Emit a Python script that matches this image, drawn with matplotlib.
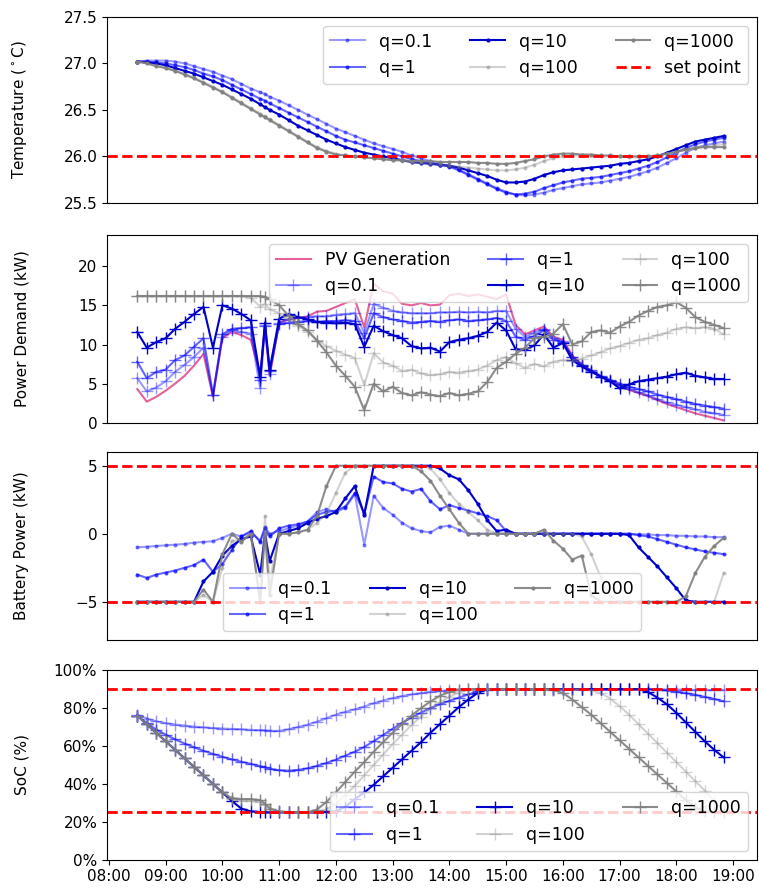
import numpy as np
import pandas as pd
import matplotlib
matplotlib.use('Agg')
import matplotlib.pyplot as plt
import matplotlib.dates as mdates
from matplotlib.ticker import PercentFormatter

day = '2021-07-01'
# 10 minute samples, with one extra sample at 10:45
times = pd.date_range(day + ' 08:30', day + ' 18:50', freq='10min').union(
    pd.DatetimeIndex([day + ' 10:45']))

labels = ['q=0.1', 'q=1', 'q=10', 'q=100', 'q=1000']

# rows: 08:30-09:50 | 10:00-10:50 (+10:45) | 11h | 12h | 13h | 14h | 15h | 16h | 17h | 18h
temp_q01 = [27.02, 27.03, 27.03, 27.03, 27.02, 27.00, 26.97, 26.94, 26.91,
            26.87, 26.83, 26.78, 26.73, 26.69, 26.67, 26.64,
            26.60, 26.55, 26.50, 26.45, 26.40, 26.35,
            26.30, 26.26, 26.22, 26.18, 26.14, 26.11,
            26.08, 26.05, 26.01, 25.98, 25.95, 25.92,
            25.90, 25.86, 25.81, 25.76, 25.71, 25.66,
            25.62, 25.59, 25.58, 25.59, 25.61, 25.64,
            25.66, 25.68, 25.70, 25.71, 25.72, 25.74,
            25.76, 25.78, 25.81, 25.84, 25.88, 25.93,
            25.98, 26.04, 26.09, 26.12, 26.14, 26.16]
temp_q1 = [27.02, 27.02, 27.01, 27.00, 26.98, 26.96, 26.93, 26.89, 26.86,
           26.82, 26.77, 26.72, 26.67, 26.62, 26.60, 26.57,
           26.52, 26.47, 26.42, 26.37, 26.32, 26.27,
           26.22, 26.18, 26.15, 26.12, 26.09, 26.06,
           26.03, 26.00, 25.97, 25.95, 25.93, 25.91,
           25.89, 25.85, 25.80, 25.75, 25.70, 25.65,
           25.61, 25.59, 25.60, 25.62, 25.66, 25.69,
           25.72, 25.74, 25.76, 25.77, 25.78, 25.80,
           25.82, 25.84, 25.87, 25.90, 25.94, 25.99,
           26.04, 26.09, 26.13, 26.16, 26.18, 26.20]
temp_q10 = [27.02, 27.01, 27.00, 26.98, 26.95, 26.92, 26.89, 26.85, 26.81,
            26.77, 26.72, 26.67, 26.62, 26.56, 26.53, 26.50,
            26.45, 26.39, 26.33, 26.28, 26.23, 26.18,
            26.14, 26.10, 26.07, 26.04, 26.02, 26.00,
            25.98, 25.96, 25.94, 25.93, 25.92, 25.91,
            25.90, 25.88, 25.85, 25.82, 25.79, 25.75,
            25.72, 25.72, 25.73, 25.76, 25.80, 25.83,
            25.85, 25.86, 25.87, 25.88, 25.89, 25.90,
            25.92, 25.93, 25.95, 25.97, 26.00, 26.04,
            26.08, 26.12, 26.16, 26.18, 26.20, 26.22]
temp_q100 = [27.02, 27.00, 26.98, 26.95, 26.92, 26.89, 26.85, 26.80, 26.75,
             26.70, 26.64, 26.58, 26.52, 26.46, 26.43, 26.40,
             26.34, 26.28, 26.22, 26.16, 26.10, 26.06,
             26.03, 26.01, 26.00, 25.99, 25.98, 25.97,
             25.96, 25.95, 25.94, 25.93, 25.92, 25.91,
             25.90, 25.89, 25.88, 25.87, 25.86, 25.85,
             25.85, 25.86, 25.88, 25.91, 25.95, 25.98,
             26.00, 26.01, 26.01, 26.01, 26.00, 26.00,
             26.00, 25.99, 25.99, 26.00, 26.01, 26.03,
             26.05, 26.08, 26.10, 26.11, 26.12, 26.13]
temp_q1000 = [27.02, 27.00, 26.97, 26.95, 26.92, 26.88, 26.84, 26.79, 26.74,
              26.69, 26.63, 26.57, 26.51, 26.45, 26.42, 26.39,
              26.33, 26.27, 26.21, 26.15, 26.09, 26.05,
              26.02, 26.01, 26.00, 25.99, 25.98, 25.97,
              25.96, 25.96, 25.95, 25.95, 25.95, 25.94,
              25.94, 25.94, 25.94, 25.93, 25.93, 25.92,
              25.92, 25.93, 25.95, 25.97, 26.00, 26.02,
              26.03, 26.03, 26.02, 26.02, 26.01, 26.01,
              26.00, 26.00, 26.00, 26.00, 26.01, 26.03,
              26.05, 26.07, 26.09, 26.10, 26.10, 26.10]

pv_gen = [4.3, 2.7, 3.3, 4.1, 5.0, 6.0, 7.3, 8.8, 3.3,
          10.8, 11.6, 11.2, 10.6, 6.3, 12.2, 6.0,
          12.8, 13.2, 13.4, 13.6, 14.2, 14.3,
          14.8, 15.3, 15.8, 12.2, 17.8, 16.8,
          16.5, 15.2, 15.0, 15.3, 15.0, 15.1,
          16.3, 16.5, 16.2, 16.4, 16.1, 15.8,
          16.4, 12.5, 11.3, 11.8, 12.3, 11.0,
          10.6, 8.6, 7.5, 6.6, 5.9, 5.3,
          4.8, 4.2, 3.8, 3.4, 2.9, 2.4,
          2.0, 1.6, 1.2, 0.9, 0.6, 0.3]
power_q01 = [5.7, 4.0, 4.5, 5.3, 6.5, 7.4, 8.4, 9.6, 3.5,
             11.0, 11.8, 11.6, 11.4, 4.4, 12.5, 6.2,
             12.8, 13.2, 13.4, 13.5, 13.6, 13.6,
             13.8, 13.9, 14.0, 11.5, 15.2, 14.7,
             14.3, 14.1, 14.0, 14.0, 14.0, 14.1,
             14.1, 14.2, 14.1, 14.2, 14.1, 14.3,
             14.3, 12.0, 11.0, 11.5, 12.0, 10.8,
             10.4, 8.4, 7.4, 6.6, 5.9, 5.3,
             4.8, 4.3, 3.9, 3.5, 3.0, 2.6,
             2.3, 2.0, 1.7, 1.4, 1.2, 1.0]
power_q1 = [7.8, 5.7, 6.5, 6.8, 8.0, 8.6, 9.7, 10.8, 3.6,
            11.3, 12.0, 12.1, 12.2, 5.4, 12.4, 6.6,
            12.6, 12.8, 12.9, 13.0, 12.9, 13.0,
            13.0, 13.1, 13.0, 10.8, 14.0, 13.5,
            13.2, 13.0, 12.8, 12.9, 13.0, 12.9,
            13.1, 13.2, 13.0, 13.1, 13.2, 13.4,
            13.0, 11.0, 10.6, 11.1, 11.8, 10.6,
            10.3, 8.4, 7.4, 6.7, 6.0, 5.5,
            5.0, 4.6, 4.3, 4.0, 3.6, 3.3,
            3.0, 2.7, 2.4, 2.2, 2.0, 1.8]
power_q10 = [11.6, 9.6, 10.3, 10.8, 12.0, 12.9, 13.9, 14.8, 9.6,
             15.0, 14.6, 13.9, 13.1, 5.8, 12.8, 6.8,
             13.3, 13.9, 13.5, 13.2, 12.9, 12.8,
             12.7, 12.8, 12.6, 9.7, 12.4, 11.7,
             11.2, 10.8, 9.8, 9.5, 9.6, 9.1,
             10.3, 10.6, 10.8, 11.1, 11.6, 12.8,
             11.8, 9.4, 9.3, 9.9, 11.3, 9.6,
             10.2, 8.0, 7.2, 6.5, 5.9, 5.3,
             4.4, 4.9, 5.3, 5.5, 5.7, 5.9,
             6.2, 6.4, 6.0, 5.8, 5.6, 5.6]
power_q100 = [16.2, 16.2, 16.2, 16.2, 16.2, 16.2, 16.2, 16.2, 16.2,
              16.2, 16.2, 16.2, 16.0, 14.8, 15.2, 14.5,
              14.0, 13.2, 12.4, 11.6, 10.6, 9.8,
              9.2, 8.7, 8.3, 4.8, 8.9, 7.7,
              7.3, 6.6, 6.8, 6.3, 6.1, 6.2,
              6.5, 6.4, 6.6, 6.8, 7.3, 8.0,
              8.4, 7.6, 7.0, 7.5, 7.2, 7.8,
              8.0, 7.9, 8.2, 8.6, 9.0, 9.5,
              9.8, 10.2, 10.6, 10.8, 11.2, 11.5,
              12.0, 12.2, 12.1, 12.2, 12.0, 11.3]
power_q1000 = [16.2, 16.2, 16.2, 16.2, 16.2, 16.2, 16.2, 16.2, 16.2,
               16.2, 16.2, 16.2, 16.2, 16.2, 16.1, 15.8,
               15.0, 13.7, 12.6, 11.8, 10.5, 9.0,
               7.3, 6.0, 4.6, 1.6, 5.0, 4.0,
               4.6, 3.8, 3.5, 3.9, 3.6, 3.4,
               3.8, 3.5, 3.7, 4.0, 5.2, 7.0,
               7.8, 8.8, 9.6, 10.8, 11.0, 11.4,
               12.6, 10.0, 10.4, 11.6, 11.8, 11.5,
               12.3, 12.9, 13.7, 14.3, 14.8, 15.0,
               15.4, 14.7, 13.5, 12.9, 12.5, 12.1]

batt_q01 = [-1.0, -0.95, -0.9, -0.85, -0.8, -0.75, -0.65, -0.6, -0.55,
            -0.3, 0.0, -0.2, 0.1, -0.5, 0.5, 0.0,
            0.2, 0.4, 0.6, 0.9, 1.6, 1.8,
            1.6, 1.9, 2.9, -0.8, 2.8, 1.9,
            1.4, 0.8, 0.4, 0.2, 0.1, 0.5,
            0.6, 0.3, 0.0, 0.0, 0.0, 0.0,
            0.0, 0.0, 0.0, 0.0, 0.0, 0.0,
            0.0, 0.0, 0.0, 0.0, 0.0, 0.0,
            0.0, 0.0, -0.05, -0.05, -0.1, -0.1,
            -0.15, -0.15, -0.2, -0.2, -0.25, -0.25]
batt_q1 = [-3.0, -3.25, -3.0, -2.85, -2.7, -2.5, -2.3, -1.9, -2.8,
           -2.2, -1.2, -0.2, 0.2, -0.6, 0.4, -0.2,
           0.4, 0.6, 0.7, 0.9, 1.4, 1.6,
           1.7, 2.0, 3.0, 1.5, 4.2, 3.8,
           3.7, 3.3, 3.1, 3.3, 2.4, 1.8,
           2.1, 1.9, 1.7, 1.5, 1.3, 1.0,
           0.2, 0.0, 0.0, 0.0, 0.0, 0.0,
           0.0, 0.0, 0.0, 0.0, 0.0, 0.0,
           0.0, 0.0, -0.1, -0.2, -0.4, -0.6,
           -0.8, -1.0, -1.15, -1.3, -1.4, -1.5]
batt_q10 = [-5.0, -5.0, -5.0, -5.0, -5.0, -5.0, -5.0, -3.5, -2.8,
            -1.6, -0.9, -0.4, -0.2, -3.0, 0.0, -2.0,
            0.0, 0.2, 0.4, 0.8, 1.1, 1.3,
            1.6, 2.6, 3.5, 1.4, 5.0, 5.0,
            5.0, 5.0, 5.0, 5.0, 5.0, 4.8,
            4.3, 4.0, 3.2, 2.2, 1.0, 0.2,
            0.3, 0.0, 0.0, 0.0, 0.0, 0.0,
            0.0, 0.0, 0.0, 0.0, 0.0, 0.0,
            0.0, -0.1, -1.0, -1.7, -2.4, -3.2,
            -4.0, -4.9, -5.0, -5.0, -5.0, -5.0]
batt_q100 = [-5.0, -5.0, -5.0, -5.0, -5.0, -5.0, -5.0, -4.5, -5.0,
             -2.5, -0.5, -0.5, 0.0, -5.0, 1.3, -3.5,
             0.0, 0.0, 0.1, 0.3, 0.8, 1.5,
             3.0, 4.5, 5.0, 5.0, 5.0, 5.0,
             5.0, 5.0, 5.0, 5.0, 4.8, 4.0,
             3.0, 2.2, 1.6, 1.0, 0.3, 0.0,
             0.0, 0.0, 0.0, 0.0, 0.0, 0.0,
             0.0, 0.0, -0.2, -1.5, -3.2, -4.6,
             -5.0, -5.0, -5.0, -5.0, -5.0, -5.0,
             -5.0, -5.0, -5.0, -5.0, -5.0, -2.9]
batt_q1000 = [-5.0, -5.0, -5.0, -5.0, -5.0, -5.0, -5.0, -4.1, -5.0,
              -1.5, 0.0, -0.6, 0.0, -5.0, 0.0, -4.5,
              0.0, 0.0, 0.1, 0.3, 1.3, 3.5,
              5.0, 5.0, 5.0, 5.0, 5.0, 5.0,
              5.0, 5.0, 5.0, 4.6, 3.9, 2.8,
              1.8, 0.8, 0.0, 0.0, 0.0, 0.0,
              0.0, 0.0, 0.0, 0.0, 0.3, -0.5,
              -1.1, -1.9, -1.6, -4.5, -5.0, -5.0,
              -5.0, -5.0, -5.0, -5.0, -5.0, -5.0,
              -5.0, -4.6, -2.9, -1.7, -0.9, -0.3]

soc_q01 = [76.5, 74.5, 73.0, 72.0, 71.3, 70.8, 70.2, 69.8, 69.5,
           69.2, 69.0, 68.8, 68.5, 68.3, 68.2, 68.0,
           68.0, 68.8, 70.0, 71.2, 72.8, 74.6,
           76.5, 78.0, 79.3, 80.8, 82.5, 84.0,
           85.2, 86.3, 87.2, 87.9, 88.5, 89.0,
           89.3, 89.8, 90.0, 90.0, 90.0, 90.0,
           90.0, 90.0, 90.0, 90.0, 90.0, 90.0,
           90.0, 90.0, 90.0, 90.0, 90.0, 90.0,
           90.0, 90.0, 90.0, 89.9, 89.9, 89.8,
           89.8, 89.7, 89.6, 89.6, 89.5, 89.5]
soc_q1 = [76.0, 72.0, 68.7, 66.0, 63.5, 61.3, 59.3, 57.5, 55.8,
          54.3, 52.9, 51.7, 50.6, 49.3, 48.7, 48.0,
          47.2, 47.0, 47.4, 48.2, 49.5, 51.0,
          52.8, 54.9, 57.0, 59.5, 62.5, 65.8,
          69.0, 72.2, 75.0, 77.6, 80.0, 82.0,
          83.8, 85.5, 87.2, 88.8, 89.8, 90.0,
          90.0, 90.0, 90.0, 90.0, 90.0, 90.0,
          90.0, 90.0, 90.0, 90.0, 90.0, 90.0,
          90.0, 90.0, 90.0, 90.0, 89.8, 89.3,
          88.7, 87.9, 87.0, 85.9, 84.8, 83.6]
soc_q10 = [76.0, 71.5, 67.0, 62.5, 58.0, 53.5, 49.0, 44.5, 40.0,
           35.5, 31.0, 27.0, 25.5, 25.2, 25.0, 25.0,
           25.0, 25.0, 25.0, 25.0, 25.0, 25.2,
           25.5, 28.0, 32.0, 35.5, 39.5, 44.0,
           48.5, 53.0, 57.5, 62.0, 67.0, 71.5,
           76.0, 80.5, 84.5, 88.0, 90.0, 90.0,
           90.0, 90.0, 90.0, 90.0, 90.0, 90.0,
           90.0, 90.0, 90.0, 90.0, 90.0, 90.0,
           90.0, 90.0, 90.0, 88.5, 85.5, 82.0,
           77.5, 72.5, 67.5, 62.5, 58.0, 54.0]
soc_q100 = [76.0, 71.5, 67.0, 62.5, 58.0, 53.5, 49.0, 44.5, 40.0,
            35.5, 32.0, 31.0, 31.0, 30.5, 29.0, 27.0,
            25.5, 25.0, 25.0, 25.0, 25.0, 26.5,
            29.5, 34.0, 39.0, 44.5, 50.0, 55.5,
            61.0, 66.0, 71.0, 75.5, 79.5, 83.0,
            86.0, 88.2, 89.5, 90.0, 90.0, 90.0,
            90.0, 90.0, 90.0, 90.0, 90.0, 90.0,
            90.0, 90.0, 90.0, 89.5, 88.0, 85.0,
            81.0, 76.5, 71.5, 66.5, 61.5, 56.5,
            51.5, 46.5, 41.5, 36.5, 31.0, 26.0]
soc_q1000 = [76.0, 71.5, 67.0, 62.5, 58.0, 53.5, 49.0, 44.5, 40.0,
             35.5, 32.5, 32.0, 32.0, 31.5, 29.5, 27.0,
             25.5, 25.0, 25.0, 25.0, 26.5, 30.5,
             35.5, 41.0, 46.5, 51.5, 57.0, 62.0,
             67.0, 71.5, 76.0, 80.0, 83.5, 86.5,
             88.5, 89.8, 90.0, 90.0, 90.0, 90.0,
             90.0, 90.0, 90.0, 90.0, 90.0, 89.5,
             88.0, 84.5, 80.5, 76.5, 72.0, 67.5,
             63.0, 58.5, 54.0, 49.5, 45.0, 40.5,
             36.0, 31.5, 27.5, 25.5, 25.0, 25.0]

temp_setpoint = 26.0
batt_limits = [5.0, -5.0]
soc_limits = [90.0, 25.0]

# colour, alpha for q=0.1 ... q=1000
q_styles = [('blue', 0.4), ('blue', 0.6), ('mediumblue', 1.0), ('grey', 0.35), ('grey', 0.9)]
legend_kw = dict(ncol=3, fontsize=12.5, columnspacing=2.2)


def plot_series(ax, series, marker, ms):
    """画出 q 不同取值的五条曲线。"""
    for vals, label, (color, alpha) in zip(series, labels, q_styles):
        ax.plot(times, vals, color=color, alpha=alpha, marker=marker,
                markersize=ms, linewidth=1.5, label=label)


plt.rcParams['font.size'] = 11
fig, axes = plt.subplots(4, 1, sharex=True, figsize=(7.59, 8.90), dpi=100)
ax1, ax2, ax3, ax4 = axes

# temperature
plot_series(ax1, [temp_q01, temp_q1, temp_q10, temp_q100, temp_q1000], '.', 4)
ax1.axhline(temp_setpoint, color='red', linestyle='--', linewidth=2, label='set point')
ax1.set_ylim(25.5, 27.5)
ax1.set_yticks([25.5, 26.0, 26.5, 27.0, 27.5])
ax1.set_ylabel('Temperature ($^\\circ$C)')
ax1.legend(loc='upper right', **legend_kw)

# power demand
ax2.plot(times, pv_gen, color='#e6609a', linewidth=1.5, label='PV Generation')
plot_series(ax2, [power_q01, power_q1, power_q10, power_q100, power_q1000], '+', 8)
ax2.set_ylim(0, 24)
ax2.set_yticks([0, 5, 10, 15, 20])
ax2.set_ylabel('Power Demand (kW)')
ax2.legend(loc='upper right', **legend_kw)

# battery power
plot_series(ax3, [batt_q01, batt_q1, batt_q10, batt_q100, batt_q1000], '.', 4)
for lim in batt_limits:
    ax3.axhline(lim, color='red', linestyle='--', linewidth=2)
ax3.set_ylim(-7.8, 6.0)
ax3.set_yticks([-5, 0, 5])
ax3.set_ylabel('Battery Power (kW)')
ax3.legend(loc='lower center', **legend_kw)

# state of charge
plot_series(ax4, [soc_q01, soc_q1, soc_q10, soc_q100, soc_q1000], '+', 8)
for lim in soc_limits:
    ax4.axhline(lim, color='red', linestyle='--', linewidth=2)
ax4.set_ylim(0, 100)
ax4.set_yticks([0, 20, 40, 60, 80, 100])
ax4.yaxis.set_major_formatter(PercentFormatter(xmax=100, decimals=0))
ax4.set_ylabel('SoC (%)')
ax4.legend(loc='lower right', **legend_kw)

ax4.set_xlim(pd.Timestamp(day + ' 07:58'), pd.Timestamp(day + ' 19:25'))
ax4.xaxis.set_major_locator(mdates.HourLocator(byhour=range(8, 20)))
ax4.xaxis.set_major_formatter(mdates.DateFormatter('%H:%M'))

positions = [(0.141, 0.772, 0.856, 0.209),
             (0.141, 0.525, 0.856, 0.211),
             (0.141, 0.281, 0.856, 0.211),
             (0.141, 0.034, 0.856, 0.213)]
for ax, pos in zip(axes, positions):
    ax.set_position(pos)
    ax.yaxis.set_label_coords(-0.12, 0.5)
for ax in axes[:3]:
    ax.tick_params(axis='x', bottom=False, labelbottom=False)

plt.savefig('out.png', dpi=100)
plt.close()
